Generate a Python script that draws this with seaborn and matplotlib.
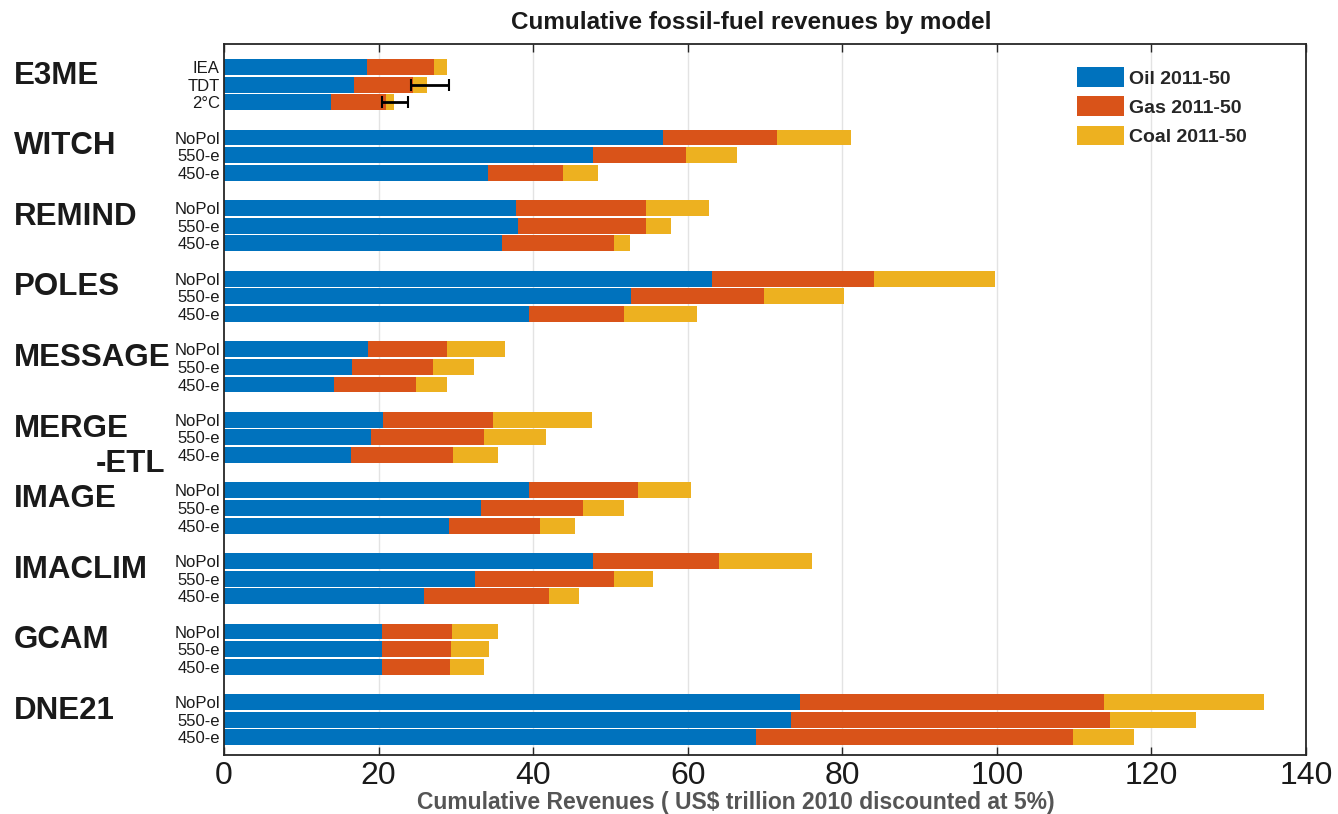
import numpy as np
import pandas as pd
import matplotlib
matplotlib.use("Agg")
import matplotlib.pyplot as plt
import matplotlib.transforms as mtrans
from matplotlib import font_manager
from matplotlib.patches import Patch
import seaborn as sns

# ---------------- data ----------------
models = ["E3ME", "WITCH", "REMIND", "POLES", "MESSAGE", "MERGE-ETL",
          "IMAGE", "IMACLIM", "GCAM", "DNE21"]
scenarios_e3me = ["IEA", "TDT", "2°C"]
scenarios_std = ["NoPol", "550-e", "450-e"]

oil = {
    "E3ME": [18.5, 16.8, 13.8], "WITCH": [56.8, 47.7, 34.1],
    "REMIND": [37.8, 38.1, 36.0], "POLES": [63.2, 52.7, 39.4],
    "MESSAGE": [18.6, 16.6, 14.2], "MERGE-ETL": [20.6, 19.0, 16.4],
    "IMAGE": [39.4, 33.3, 29.1], "IMACLIM": [47.8, 32.5, 25.9],
    "GCAM": [20.4, 20.5, 20.4], "DNE21": [74.5, 73.4, 68.9],
}
gas = {
    "E3ME": [8.7, 7.7, 7.1], "WITCH": [14.7, 12.1, 9.7],
    "REMIND": [16.8, 16.5, 14.4], "POLES": [20.9, 17.2, 12.4],
    "MESSAGE": [10.3, 10.5, 10.7], "MERGE-ETL": [14.2, 14.6, 13.2],
    "IMAGE": [14.2, 13.1, 11.8], "IMACLIM": [16.3, 18.0, 16.1],
    "GCAM": [9.1, 8.9, 8.8], "DNE21": [39.4, 41.2, 41.0],
}
coal = {
    "E3ME": [1.7, 1.8, 1.1], "WITCH": [9.6, 6.6, 4.6],
    "REMIND": [8.1, 3.3, 2.1], "POLES": [15.6, 10.3, 9.4],
    "MESSAGE": [7.5, 5.2, 4.0], "MERGE-ETL": [12.8, 8.1, 5.8],
    "IMAGE": [6.8, 5.3, 4.5], "IMACLIM": [12.0, 5.0, 3.9],
    "GCAM": [5.9, 4.9, 4.4], "DNE21": [20.7, 11.2, 7.9],
}
# E3ME uncertainty ranges (TDT, 2°C)
err_scen = ["TDT", "2°C"]
err_low = [24.2, 20.5]
err_high = [29.1, 23.8]

legend_labels = ["Oil 2011-50", "Gas 2011-50", "Coal 2011-50"]
xticks = [0, 20, 40, 60, 80, 100, 120, 140]
title = "Cumulative fossil-fuel revenues by model"
xlabel = "Cumulative Revenues ( US$ trillion 2010 discounted at 5%)"

c_oil, c_gas, c_coal = "#0072BD", "#D95319", "#EDB120"

# ---------------- fonts ----------------
def pick(names):
    for n in names:
        try:
            font_manager.findfont(n, fallback_to_default=False)
            return n
        except Exception:
            pass
    return "DejaVu Sans"

sns.set_theme(style="white")
base = pick(["Liberation Sans", "DejaVu Sans"])
narrow = pick(["Liberation Sans Narrow", "Liberation Sans", "DejaVu Sans"])
plt.rcParams["font.family"] = [base, "DejaVu Sans"]

# ---------------- table ----------------
rows = []
for g, m in enumerate(models):
    scen = scenarios_e3me if m == "E3ME" else scenarios_std
    for j, s in enumerate(scen):
        o, ga, c = oil[m][j], gas[m][j], coal[m][j]
        rows.append(dict(model=m, scenario=s, pos=g * 4 + j,
                         oil_cum=o, gas_cum=o + ga, coal_cum=o + ga + c))
df = pd.DataFrame(rows)

# ---------------- figure ----------------
fig = plt.figure(figsize=(13.38, 8.14), dpi=100)
ax = fig.add_axes([224 / 1338, 1 - 755 / 814, (1306 - 224) / 1338, (755 - 44) / 814])

ax.set_axisbelow(True)
for xv in xticks[1:-1]:
    ax.axvline(xv, color="#e3e3e3", lw=1.0, zorder=0)

for col, colr in [("coal_cum", c_coal), ("gas_cum", c_gas), ("oil_cum", c_oil)]:
    sns.barplot(data=df, x=col, y="pos", orient="y", native_scale=True,
                color=colr, saturation=1, width=0.9, errorbar=None,
                linewidth=0, ax=ax)

# error bars for E3ME
e3 = df[df.model == "E3ME"].set_index("scenario")
for s, lo, hi in zip(err_scen, err_low, err_high):
    y = e3.loc[s, "pos"]
    ax.errorbar([(lo + hi) / 2], [y], xerr=[[(hi - lo) / 2], [(hi - lo) / 2]],
                fmt="none", ecolor="black", elinewidth=2, capsize=4, capthick=1.5,
                zorder=5)

ax.set_xlim(0, 140)
ax.set_ylim(39.0, -1.3)
ax.set_xticks(xticks)
ax.set_xticklabels([str(t) for t in xticks], fontfamily=narrow, fontsize=23,
                   color="#1a1a1a")
ax.set_yticks(df["pos"].tolist())
ax.set_yticklabels(df["scenario"].tolist(), fontsize=12, color="#1a1a1a")
ax.tick_params(axis="y", length=0, pad=3)
ax.tick_params(axis="x", direction="in", length=6, width=1, top=True,
               bottom=True, color="#262626", pad=4)
ax.set_xlabel("")
ax.set_ylabel("")
for sp in ax.spines.values():
    sp.set_visible(True)
    sp.set_color("#262626")
    sp.set_linewidth(1.3)

# model labels
tr = mtrans.blended_transform_factory(fig.transFigure, ax.transData)
for g, m in enumerate(models):
    yc = g * 4 + 0.5
    if m == "MERGE-ETL":
        ax.text(14 / 1338, yc, "MERGE", transform=tr, ha="left", va="center",
                fontsize=22.5, fontweight="bold", color="#1a1a1a")
        ax.text(165 / 1338, g * 4 + 2.5, "-ETL", transform=tr, ha="right",
                va="center", fontsize=22.5, fontweight="bold", color="#1a1a1a")
    else:
        ax.text(14 / 1338, yc, m, transform=tr, ha="left", va="center",
                fontsize=22.5, fontweight="bold", color="#1a1a1a")

# legend
handles = [Patch(facecolor=c, edgecolor="none") for c in (c_oil, c_gas, c_coal)]
fig.legend(handles, legend_labels, loc="upper left",
           bbox_to_anchor=(1077 / 1338, 1 - 67 / 814), frameon=False,
           prop=dict(family=base, weight="bold", size=14),
           handlelength=2.4, handleheight=1.2, handletextpad=0.25,
           labelspacing=0.45, borderpad=0, borderaxespad=0)

fig.text(751 / 1338, 1 - 22 / 814, title, ha="center", va="center",
         fontsize=17.5, fontweight="bold", color="#1a1a1a")
fig.text(736 / 1338, 1 - 802 / 814, xlabel, ha="center", va="center",
         fontsize=16.5, fontweight="bold", fontfamily=narrow, color="#555555")

fig.savefig("out.png", dpi=100)
